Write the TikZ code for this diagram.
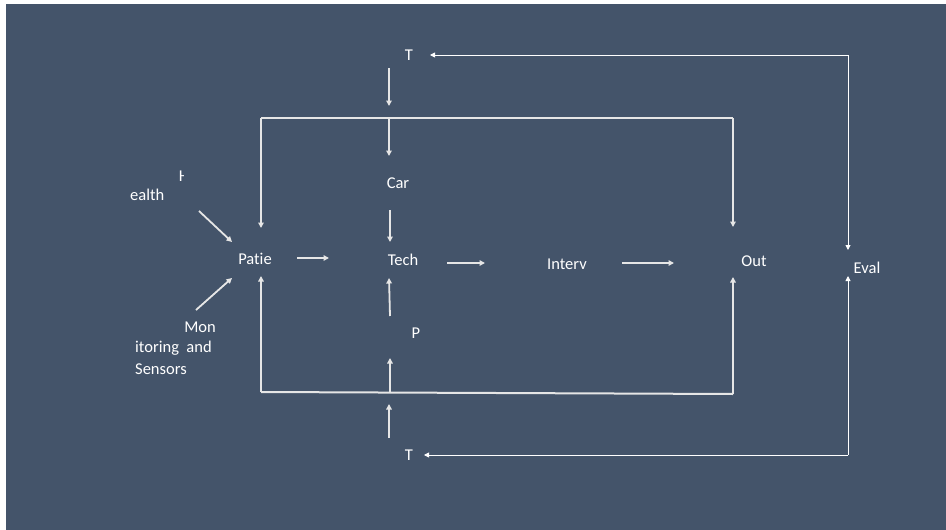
\documentclass[tikz,border=0pt]{standalone}
\usepackage{fontspec}
\setmainfont[Ligatures={NoCommon}]{Carlito}
\usetikzlibrary{arrows.meta}
\definecolor{bg}{HTML}{44546A}
\definecolor{ln}{HTML}{E6E6E6}
\tikzset{
  lbl/.style={text=white,font=\fontsize{16.5}{18}\selectfont,inner sep=0pt},
  thick arr/.style={draw=ln,line width=1.8pt,-{Triangle[length=5.5pt,width=5.5pt]}},
  thin arr/.style={draw=white,line width=0.9pt,-{Triangle[length=5pt,width=5pt]}},
  frame/.style={draw=ln,line width=2pt}
}
\begin{document}
\begin{tikzpicture}[x=1pt,y=-1pt]
\useasboundingbox (0,0) rectangle (946,530);
\fill[white] (0,0) rectangle (946,530);
\fill[bg] (6,4) rectangle (946,530);
% labels
\node[lbl] (T1) at (409,55) {T};
\node[lbl] (car) at (398,183) {Car};
\node[lbl] (tech) at (403,260) {Tech};
\node[lbl] (patie) at (255,259) {Patie};
\node[lbl] (interv) at (567,264) {Interv};
\node[lbl] (out) at (754,261) {Out};
\node[lbl] (eval) at (867,268) {Eval};
\node[lbl] (p) at (416,333) {P};
\node[lbl] (T2) at (409,455) {T};
\node[lbl,anchor=west] (ealth) at (130,195) {ealth};
\begin{scope}
\clip (178,166) rectangle (183,186);
\node[lbl] (H) at (184,176) {H};
\end{scope}
\node[lbl,anchor=east] (mon) at (216,327) {Mon};
\node[lbl,anchor=west] (itor) at (135,348) {itoring\ \ and};
\node[lbl,anchor=west] (sens) at (135,369) {Sensors};
% coordinates
\coordinate (tl) at (261,118);
\coordinate (tr) at (733,118);
\coordinate (bl) at (261,392);
\coordinate (br) at (733,394);
\coordinate (tm) at (389,118);
\coordinate (bm) at (390,393);
\coordinate (rt) at (848,55);
\coordinate (rb) at (848,455);
% frames
\draw[frame] (tl) -- (tr);
\draw[frame] (bl) -- (br);
\draw[thick arr] (tl) -- (261,228);
\draw[thick arr] (tr) -- (733,227);
\draw[thick arr] (bl) -- (261,276);
\draw[thick arr] (br) -- (733,277);
% vertical column
\draw[thick arr] (389,68) -- (389,106);
\draw[thick arr] (tm) -- (389,156);
\draw[thick arr] (390,210) -- (390,242);
\draw[thick arr] (390,316) -- (389,278);
\draw[thick arr] (bm) -- (390,358);
\draw[thick arr] (389,438) -- (389,404);
% horizontal flow
\draw[thick arr] (297,258) -- (329,258);
\draw[thick arr] (447,263) -- (485,263);
\draw[thick arr] (622,263) -- (674,263);
% diagonal inputs
\draw[thick arr] (199,211) -- (232,242);
\draw[thick arr] (196,310) -- (232,278);
% feedback
\draw[thin arr] (rt) -- (430,55);
\draw[thin arr] (rt) -- (848,250);
\draw[thin arr] (rb) -- (424,455);
\draw[thin arr] (rb) -- (848,276);
\end{tikzpicture}
\end{document}
